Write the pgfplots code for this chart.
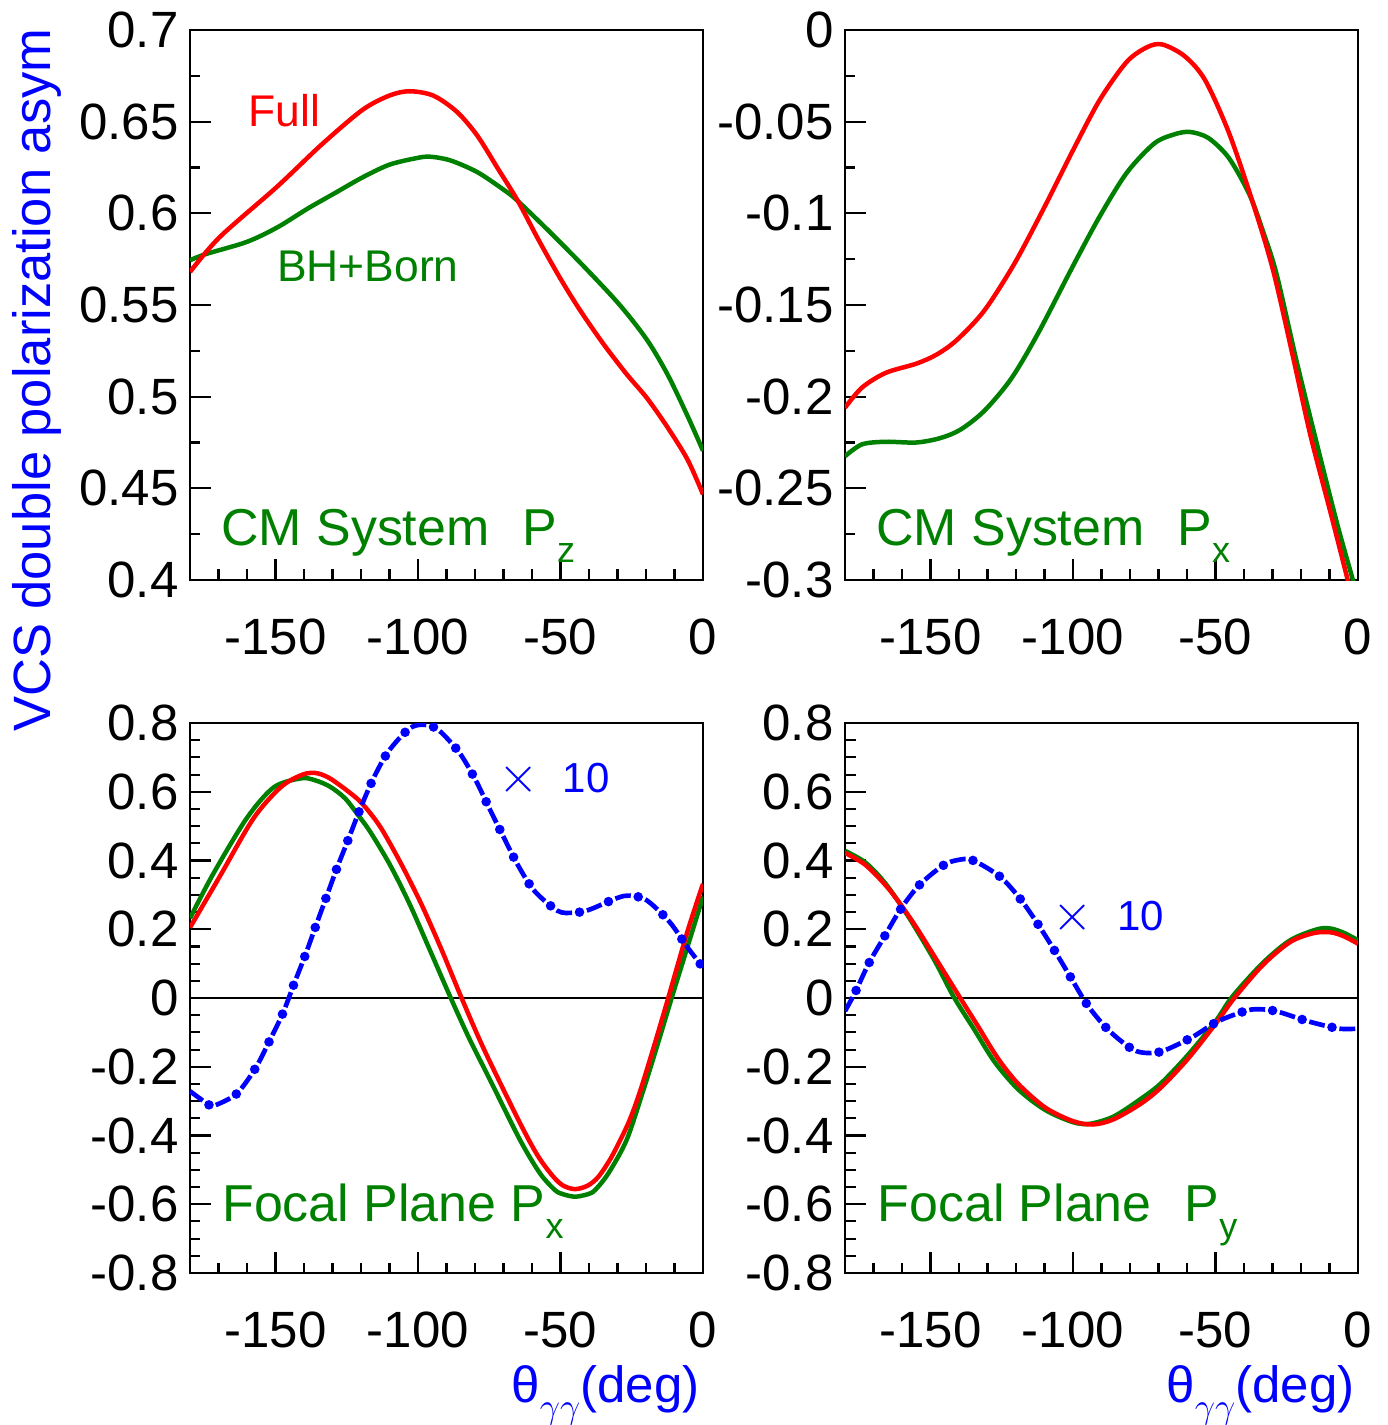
\documentclass[border=0pt]{standalone}
\usepackage{pgfplots}
\pgfplotsset{compat=1.18}
\usepackage{fontspec}
\setmainfont{Liberation Sans}
\definecolor{rootgreen}{rgb}{0,0.5,0}
\definecolor{rootblue}{rgb}{0,0,1}
\definecolor{rootred}{rgb}{1,0,0}

\pgfplotsset{
  rootaxis/.style={
    scale only axis,
    width=171pt, height=183.333pt,
    anchor=south west,
    xmin=-180, xmax=0,
    xtick={-150,-100,-50,0},
    xticklabels={-150,-100,-50,0},
    minor xtick={-170,-160,-140,-130,-120,-110,-90,-80,-70,-60,-40,-30,-20,-10},
    tick pos=left,
    tick align=inside,
    major tick length=7pt,
    minor tick length=3.5pt,
    every tick/.style={black, line width=0.7pt},
    axis line style={black, line width=0.8pt},
    tick label style={font=\fontsize{17}{20}\selectfont},
    xticklabel style={yshift=-9.3pt},
    yticklabel style={xshift=-0.3pt},
  },
  fullline/.style={rootred, line width=1.5pt, smooth},
  bornline/.style={rootgreen, line width=1.5pt, smooth},
  bluedash/.style={rootblue, line width=1.55pt, smooth, dash pattern=on 5.3pt off 5pt},
  bluedot/.style={rootblue, line width=3.2pt, line cap=round, smooth, dash pattern=on 0pt off 10.3pt, dash phase=2.5pt},
}
\tikzset{
  paneltext/.style={anchor=base west, inner sep=0, text=rootgreen, font=\fontsize{17.3}{20}\selectfont},
  timestext/.style={anchor=base west, inner sep=0, text=rootblue, font=\fontsize{14}{16}\selectfont},
}

\pgfplotstableread{
x y
-180 0.568
-169.6 0.587
-149.4 0.6146
-133.9 0.6374
-119.6 0.6563
-110.1 0.6642
-103 0.6666
-94.6 0.6642
-86.3 0.6553
-79.2 0.6424
-72 0.6245
-64.9 0.6066
-57.8 0.5858
-50.6 0.5659
-43.5 0.548
-35.1 0.5291
-26.8 0.5123
-19.7 0.4993
-12.5 0.4834
-5.4 0.4656
0 0.4467
}\tlfull

\pgfplotstableread{
x y
-180 0.5744
-174.4 0.5778
-160.1 0.5844
-149.4 0.5923
-138.7 0.6026
-129.2 0.611
-119.6 0.6195
-110.1 0.6265
-100.6 0.6301
-95.8 0.6309
-88.7 0.6289
-79.2 0.6225
-69.7 0.6126
-64.9 0.6066
-53 0.5887
-41.1 0.5699
-29.2 0.55
-19.7 0.5311
-12.5 0.5123
-5.4 0.4894
0 0.4705
}\tlborn

\pgfplotstableread{
x y
-180 -0.206
-174 -0.195
-165.7 -0.187
-155 -0.182
-147.8 -0.177
-140.7 -0.169
-131.1 -0.153
-120.4 -0.127
-109.7 -0.0956
-100.1 -0.0659
-90.6 -0.0381
-81.1 -0.0173
-73.9 -0.0093
-68.6 -0.0079
-60.8 -0.0143
-53.7 -0.0272
-45.3 -0.0560
-37 -0.0937
-29.8 -0.131
-22.7 -0.179
-16.7 -0.221
-9.5 -0.264
-3.6 -0.300
-2 -0.310
}\trfull

\pgfplotstableread{
x y
-180 -0.2325
-174 -0.226
-165.7 -0.2246
-155 -0.225
-146.6 -0.2226
-139.5 -0.218
-131.1 -0.2077
-121.6 -0.190
-112.1 -0.165
-100.1 -0.129
-90.6 -0.1016
-81.1 -0.0778
-71.5 -0.0619
-64.4 -0.0569
-59 -0.0556
-52.5 -0.0589
-45.3 -0.0698
-38.1 -0.0897
-33.4 -0.1095
-28.6 -0.133
-21.5 -0.181
-14.3 -0.2266
-7.2 -0.270
-1.8 -0.300
0 -0.311
}\trborn

\pgfplotstableread{
x y
-180 -0.271
-173.5 -0.310
-171.5 -0.313
-163.7 -0.279
-157.1 -0.205
-152.3 -0.128
-147.4 -0.044
-143.5 0.041
-139.5 0.126
-135.8 0.211
-132.1 0.295
-128.3 0.381
-124.2 0.467
-120.2 0.552
-115.8 0.636
-110.5 0.716
-103.2 0.783
-98.2 0.795
-93 0.781
-85.6 0.715
-79.9 0.636
-75.1 0.554
-70.2 0.472
-65.1 0.389
-59.3 0.313
-51.1 0.254
-45.8 0.248
-40.2 0.256
-30.1 0.291
-25.6 0.298
-19.7 0.284
-11.7 0.221
-5.4 0.147
0 0.089
}\blten

\pgfplotstableread{
x y
-180 0.205
-169.6 0.353
-157.7 0.523
-148.2 0.613
-141.1 0.648
-136.3 0.655
-130.9 0.639
-121.5 0.581
-116.2 0.532
-112.2 0.484
-105.7 0.387
-98.7 0.271
-91.7 0.140
-84.7 0.0
-76.8 -0.150
-64.2 -0.364
-57.8 -0.461
-52.5 -0.520
-49 -0.546
-44.9 -0.556
-40.5 -0.546
-36.7 -0.520
-32 -0.461
-26.2 -0.364
-22.1 -0.272
-17 -0.135
-12.2 0.0
-5.4 0.195
0 0.332
}\blfull

\pgfplotstableread{
x y
-180 0.232
-172 0.359
-160.1 0.523
-150.6 0.613
-141.1 0.639
-136.3 0.634
-130.9 0.615
-125.6 0.581
-121 0.532
-116.8 0.484
-109.8 0.387
-102.8 0.271
-95.6 0.135
-88.5 0.0
-82 -0.118
-74.7 -0.2385
-64.2 -0.413
-57.2 -0.510
-51.9 -0.559
-49 -0.571
-44.9 -0.578
-40.5 -0.571
-37.9 -0.559
-33.2 -0.510
-26.8 -0.413
-21 -0.270
-16 -0.137
-11 0.0
-5.4 0.150
0 0.295
}\blborn

\pgfplotstableread{
x y
-180 -0.038
-176.4 0.017
-171.7 0.100
-166.3 0.177
-160.6 0.257
-154 0.328
-145.7 0.385
-140.7 0.401
-135.3 0.401
-125.6 0.353
-118.3 0.286
-112 0.211
-106.1 0.133
-100.6 0.057
-94.8 -0.022
-87.6 -0.093
-79.2 -0.149
-73.9 -0.160
-68.4 -0.154
-58.4 -0.115
-49.2 -0.068
-38.8 -0.036
-33.4 -0.033
-28 -0.040
-17.4 -0.068
-6.7 -0.089
0 -0.089
}\brten

\pgfplotstableread{
x y
-180 0.422
-172.8 0.387
-164.5 0.316
-156.2 0.221
-147.8 0.110
-139.5 -0.001
-133.5 -0.080
-126.4 -0.175
-119.2 -0.250
-109.7 -0.319
-100.1 -0.358
-93 -0.368
-85.8 -0.353
-76.3 -0.308
-69.1 -0.260
-59.6 -0.176
-50 -0.075
-43.5 -0.001
-33.4 0.096
-23.8 0.163
-15.5 0.189
-9.5 0.191
-4.8 0.179
0 0.158
}\brfull

\pgfplotstableread{
x y
-180 0.428
-172.8 0.394
-165.7 0.332
-157.4 0.232
-148.5 0.108
-141.9 0.004
-134.7 -0.091
-127.5 -0.186
-119.2 -0.266
-109.7 -0.326
-100.1 -0.361
-94.2 -0.366
-85.8 -0.345
-76.3 -0.294
-69.1 -0.248
-59.6 -0.165
-50 -0.068
-44.1 0.004
-33.4 0.102
-23.8 0.168
-14.3 0.200
-9.5 0.202
-4.8 0.189
0 0.168
}\brborn

\newcommand{\bigtimes}{{\fontsize{19}{19}\selectfont$\times$}}

\begin{document}
\begin{tikzpicture}
\path[use as bounding box] (0,0) rectangle (462.667pt,475pt);

% Top-left: CM System Pz
\begin{axis}[rootaxis, at={(63.333pt,281.667pt)},
  ymin=0.4, ymax=0.7,
  ytick={0.4,0.45,0.5,0.55,0.6,0.65,0.7},
  yticklabels={0.4,0.45,0.5,0.55,0.6,0.65,0.7},
  minor ytick={0.425,0.475,0.525,0.575,0.625,0.675}]
\addplot[bornline] table[x=x,y=y] {\tlborn};
\addplot[fullline] table[x=x,y=y] {\tlfull};
\node[anchor=base west, inner sep=0, text=rootred, font=\fontsize{14.8}{16}\selectfont] at (rel axis cs:0.113,0.824) {Full};
\node[anchor=base west, inner sep=0, text=rootgreen, font=\fontsize{14.8}{16}\selectfont] at (rel axis cs:0.169,0.5436) {BH+Born};
\node[paneltext] at (rel axis cs:0.060,0.0636) {CM System\hspace{11pt}P\raisebox{-5.7pt}{\fontsize{12}{12}\selectfont z}};
\end{axis}

% Top-right: CM System Px
\begin{axis}[rootaxis, at={(281.667pt,281.667pt)},
  ymin=-0.3, ymax=0,
  ytick={-0.3,-0.25,-0.2,-0.15,-0.1,-0.05,0},
  yticklabels={-0.3,-0.25,-0.2,-0.15,-0.1,-0.05,0},
  minor ytick={-0.275,-0.225,-0.175,-0.125,-0.075,-0.025}]
\addplot[bornline] table[x=x,y=y] {\trborn};
\addplot[fullline] table[x=x,y=y] {\trfull};
\node[paneltext] at (rel axis cs:0.060,0.0636) {CM System\hspace{11pt}P\raisebox{-5.7pt}{\fontsize{12}{12}\selectfont x}};
\end{axis}

% Bottom-left: Focal Plane Px
\begin{axis}[rootaxis, at={(63.333pt,50.667pt)},
  ymin=-0.8, ymax=0.8,
  ytick={-0.8,-0.6,-0.4,-0.2,0,0.2,0.4,0.6,0.8},
  yticklabels={-0.8,-0.6,-0.4,-0.2,0,0.2,0.4,0.6,0.8},
  minor ytick={-0.75,-0.7,-0.65,-0.55,-0.5,-0.45,-0.35,-0.3,-0.25,-0.15,-0.1,-0.05,0.05,0.1,0.15,0.25,0.3,0.35,0.45,0.5,0.55,0.65,0.7,0.75}]
\addplot[black, line width=0.5pt] coordinates {(-180,0) (0,0)};
\addplot[bornline] table[x=x,y=y] {\blborn};
\addplot[fullline] table[x=x,y=y] {\blfull};
\addplot[bluedash] table[x=x,y=y] {\blten};
\addplot[bluedot] table[x=x,y=y] {\blten};
\node[timestext] at (rel axis cs:0.600,0.8745) {\bigtimes\hspace{8pt}10};
\node[paneltext] at (rel axis cs:0.062,0.093) {Focal Plane P\raisebox{-5.7pt}{\fontsize{12}{12}\selectfont x}};
\end{axis}

% Bottom-right: Focal Plane Py
\begin{axis}[rootaxis, at={(281.667pt,50.667pt)},
  ymin=-0.8, ymax=0.8,
  ytick={-0.8,-0.6,-0.4,-0.2,0,0.2,0.4,0.6,0.8},
  yticklabels={-0.8,-0.6,-0.4,-0.2,0,0.2,0.4,0.6,0.8},
  minor ytick={-0.75,-0.7,-0.65,-0.55,-0.5,-0.45,-0.35,-0.3,-0.25,-0.15,-0.1,-0.05,0.05,0.1,0.15,0.25,0.3,0.35,0.45,0.5,0.55,0.65,0.7,0.75}]
\addplot[black, line width=0.5pt] coordinates {(-180,0) (0,0)};
\addplot[bornline] table[x=x,y=y] {\brborn};
\addplot[fullline] table[x=x,y=y] {\brfull};
\addplot[bluedash] table[x=x,y=y] {\brten};
\addplot[bluedot] table[x=x,y=y] {\brten};
\node[timestext] at (rel axis cs:0.404,0.622) {\bigtimes\hspace{8pt}10};
\node[paneltext] at (rel axis cs:0.0625,0.093) {Focal Plane\hspace{11pt}P\raisebox{-5.7pt}{\fontsize{12}{12}\selectfont y}};
\end{axis}

% Global labels
\node[rotate=90, anchor=base east, inner sep=0, text=rootblue, font=\fontsize{17.5}{20}\selectfont] at (16.667pt,465.667pt) {VCS double polarization asym};
\node[anchor=base east, inner sep=0, text=rootblue, font=\fontsize{17}{20}\selectfont] at (233.333pt,7.667pt) {θ\raisebox{-5.5pt}{\fontsize{11.5}{12}\selectfont$\gamma\gamma$}(deg)};
\node[anchor=base east, inner sep=0, text=rootblue, font=\fontsize{17}{20}\selectfont] at (451.667pt,7.667pt) {θ\raisebox{-5.5pt}{\fontsize{11.5}{12}\selectfont$\gamma\gamma$}(deg)};
\end{tikzpicture}
\end{document}
